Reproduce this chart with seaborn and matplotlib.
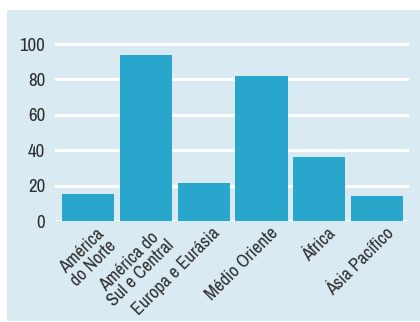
import matplotlib
matplotlib.use("Agg")
import matplotlib.pyplot as plt
import matplotlib.transforms as mtrans
import seaborn as sns
from matplotlib.patches import Rectangle

# Data
regions = ["América\ndo Norte", "América do\nSul e Central", "Europa e Eurásia",
           "Médio Oriente", "África", "Ásia Pacífico"]
values = [15, 94, 21.5, 82, 36, 14]
yticks = [0, 20, 40, 60, 80, 100]

panel_color = "#d9eaf2"
bar_color = "#29a6cb"
text_color = "#2e2e2e"

sns.set_style("white")
plt.rcParams["font.family"] = ["Archivo Narrow", "DejaVu Sans"]

fig = plt.figure(figsize=(4.2, 3.22), dpi=100)
fig.patch.set_facecolor("white")
panel = Rectangle((7 / 420, 1 / 322), 413 / 420, 311 / 322,
                  transform=fig.transFigure, facecolor=panel_color,
                  edgecolor="none", zorder=-10)
fig.patches.append(panel)

ax = fig.add_axes([55 / 420, (322 - 221) / 322, (409 - 55) / 420, (221 - 40) / 322])
ax.set_facecolor("none")
ax.set_zorder(5)

sns.barplot(x=regions, y=values, color=bar_color, width=0.9, saturation=1,
            edgecolor="none", ax=ax, zorder=3)

ax.set_ylim(0, 102.3)
ax.set_xlim(-0.57, 5.55)
ax.set_yticks(yticks)
ax.set_yticklabels([str(t) for t in yticks], fontsize=13.5, color=text_color)
ax.grid(axis="y", color="white", linewidth=2.2, zorder=1)
ax.set_axisbelow(True)
for s in ax.spines.values():
    s.set_visible(False)
ax.tick_params(axis="both", length=0)
ax.tick_params(axis="y", pad=7)
ax.tick_params(axis="x", pad=3)

shift = mtrans.ScaledTranslation(0.08, 0, fig.dpi_scale_trans)
for lab in ax.get_xticklabels():
    lab.set_rotation(45)
    lab.set_ha("right")
    lab.set_rotation_mode("anchor")
    lab.set_fontsize(13)
    lab.set_color(text_color)
    lab.set_multialignment("center")
    lab.set_linespacing(1.1)
    lab.set_transform(lab.get_transform() + shift)

ax.set_xlabel("")
ax.set_ylabel("")

fig.savefig("out.png", dpi=100, facecolor="white")
